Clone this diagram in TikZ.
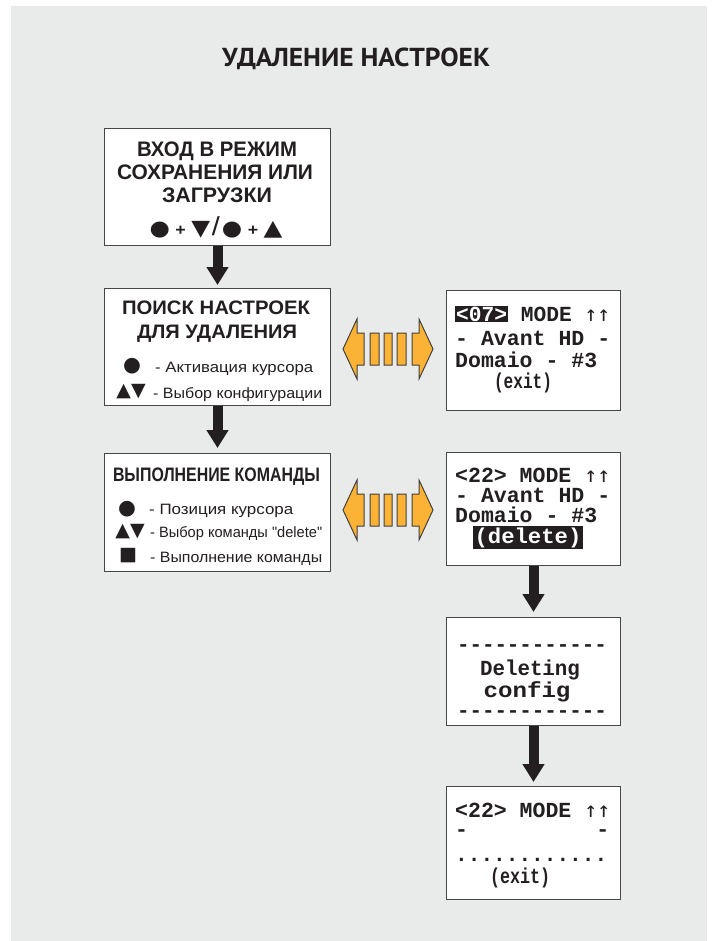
\documentclass[tikz,border=0pt]{standalone}
\usepackage{fontspec}
\usepackage{graphicx}
\setmainfont{Liberation Sans}
\newfontfamily\titlef{PT Sans}
\newfontfamily\lcdf{Liberation Mono}
\newfontfamily\symf{DejaVu Sans}
\newfontfamily\arrf{DejaVu Sans Mono}
\usetikzlibrary{arrows.meta}
\definecolor{panel}{RGB}{233,235,234}
\definecolor{ink}{RGB}{35,31,32}
\definecolor{orng}{RGB}{252,178,52}
\newcommand\fitw[2]{\sbox0{#2}\pgfmathsetmacro\fitfac{#1/\the\wd0}\scalebox{\fitfac}[1]{\usebox0}}
\newcommand\hlbox[2]{{\fboxsep=#1\colorbox{ink}{\textcolor{white}{#2}}}}
\begin{document}
\begin{tikzpicture}[x=1pt,y=-1pt,
  box/.style={draw=black!72, line width=1pt, fill=white, anchor=north west, inner sep=0pt},
  txt/.style={text=ink, inner sep=0pt},
  hdA/.style={txt, anchor=base, font=\fontsize{21}{21}\selectfont\bfseries},
  hdB/.style={txt, anchor=base, font=\fontsize{19.5}{19.5}\selectfont\bfseries},
  sm/.style={txt, anchor=base west, font=\fontsize{15}{15}\selectfont},
  sym/.style={txt, anchor=center, font=\symf\fontsize{19}{19}\selectfont},
  lcd/.style={txt, font=\lcdf\bfseries\fontsize{21.5}{21.5}\selectfont},
  dn/.style={draw=ink, line width=10pt, -{Triangle[length=18pt,width=21pt]}},
  dblarrow/.pic={
    \filldraw[fill=orng, draw=black!75, line width=1pt, line join=miter]
      (-45,0) -- (-31,-30) -- (-31,-16) -- (-24,-16) -- (-24,16) -- (-31,16) -- (-31,30) -- cycle
      (45,0) -- (31,-30) -- (31,-16) -- (24,-16) -- (24,16) -- (31,16) -- (31,30) -- cycle
      (-18,-16) rectangle (-9,16)
      (-4,-16) rectangle (4,16)
      (9,-16) rectangle (18,16);
  }
]
\useasboundingbox (0,0) rectangle (717,941);
\fill[white] (0,0) rectangle (717,941);
\fill[panel] (11,6) rectangle (707,941);

% title
\node[txt, anchor=base, font=\titlef\bfseries\fontsize{26}{26}\selectfont] (title) at (356,67) {\fitw{268}{УДАЛЕНИЕ НАСТРОЕК}};

% left boxes
\node[box, minimum width=226pt, minimum height=117pt] (b1) at (104,128) {};
\node[box, minimum width=226pt, minimum height=117pt] (b2) at (104,288) {};
\node[box, minimum width=226pt, minimum height=118pt] (b3) at (104,453) {};

\node[hdA] (b1a) at (217,157) {\fitw{160}{ВХОД В РЕЖИМ}};
\node[hdA] (b1b) at (215,180) {\fitw{196}{СОХРАНЕНИЯ ИЛИ}};
\node[hdA] (b1c) at (217,203) {\fitw{110}{ЗАГРУЗКИ}};
\node[txt, anchor=base] (b1d) at (216,236) {\fitw{133}{{\symf\fontsize{21}{21}\selectfont ●}\enspace{\fontsize{16}{16}\selectfont\bfseries +}\enspace{\symf\fontsize{22}{22}\selectfont ▼}\,{\fontsize{26}{26}\selectfont /}\,{\symf\fontsize{21}{21}\selectfont ●}\enspace{\fontsize{16}{16}\selectfont\bfseries +}\enspace{\symf\fontsize{22}{22}\selectfont ▲}}};

\node[hdB] (b2a) at (216,314) {\fitw{188}{ПОИСК НАСТРОЕК}};
\node[hdB] (b2b) at (217,338) {\fitw{160}{ДЛЯ УДАЛЕНИЯ}};
\node[sym, font=\symf\fontsize{20.5}{20.5}\selectfont] (b2s1) at (132,366) {●};
\node[sm] (b2t1) at (155,372) {\fitw{158}{- Активация курсора}};
\node[sym] (b2s2) at (131,392) {▲▼};
\node[sm] (b2t2) at (153,398) {\fitw{169}{- Выбор конфигурации}};

\node[hdB] (b3a) at (216.5,481) {\fitw{207}{ВЫПОЛНЕНИЕ КОМАНДЫ}};
\node[sym, font=\symf\fontsize{20.5}{20.5}\selectfont] (b3s1) at (127,509) {●};
\node[sm] (b3t1) at (149,514) {\fitw{144}{- Позиция курсора}};
\node[sym] (b3s2) at (130,532) {▲▼};
\node[sm] (b3t2) at (150,537) {\fitw{172}{- Выбор команды \textquotedbl delete\textquotedbl}};
\node[sym] (b3s3) at (128,556) {■};
\node[sm] (b3t3) at (150,562) {\fitw{172}{- Выполнение команды}};

% screens
\node[box, minimum width=174pt, minimum height=120pt] (s1) at (446,290) {};
\node[box, minimum width=174pt, minimum height=113pt] (s2) at (446,452) {};
\node[box, minimum width=174pt, minimum height=108pt] (s3) at (446,617) {};
\node[box, minimum width=174pt, minimum height=113pt] (s4) at (446,786) {};

\node[lcd, anchor=base west] (s1a) at (455,321) {\fitw{155}{\hlbox{1pt}{<07>} MODE {\arrf\mdseries ↑↑}}};
\node[lcd, anchor=base west] (s1b) at (455,345) {\fitw{155}{- Avant HD -}};
\node[lcd, anchor=base west] (s1c) at (455,367) {\fitw{142}{Domaio - \#3}};
\node[lcd, anchor=base] (s1d) at (523,388) {\fitw{58}{(exit)}};

\node[lcd, anchor=base west] (s2a) at (455,482) {\fitw{155}{<22> MODE {\arrf\mdseries ↑↑}}};
\node[lcd, anchor=base west] (s2b) at (455,502) {\fitw{155}{- Avant HD -}};
\node[lcd, anchor=base west] (s2c) at (455,522) {\fitw{142}{Domaio - \#3}};
\node[lcd, anchor=base] (s2d) at (528,543) {\fitw{110}{\hlbox{1.5pt}{(delete)}}};

\node[lcd, anchor=base] (s3a) at (532,651) {\fitw{150}{------------}};
\node[lcd, anchor=base] (s3b) at (530,675) {\fitw{100}{Deleting}};
\node[lcd, anchor=base] (s3c) at (527,697) {\fitw{87}{config}};
\node[lcd, anchor=base] (s3d) at (532,717) {\fitw{150}{------------}};

\node[lcd, anchor=base west] (s4a) at (455,817) {\fitw{155}{<22> MODE {\arrf\mdseries ↑↑}}};
\node[lcd, anchor=base west] (s4b) at (455,836) {\fitw{154}{-\hphantom{0000000000}-}};
\node[lcd, anchor=base west] (s4d) at (455,861) {\fitw{152}{............}};
\node[lcd, anchor=base] (s4e) at (520,883) {\fitw{60}{(exit)}};

% connectors
\draw[dn, shorten >=3pt] (b1.south) -- (b2.north);
\draw[dn, shorten >=5pt] (b2.south) -- (b3.north);
\draw[dn, shorten >=5pt] (s2.south) -- (s3.north);
\draw[dn, shorten >=4pt] (s3.south) -- (s4.north);

\pic (da1) at (388,349) {dblarrow};
\pic (da2) at (388,510) {dblarrow};
\end{tikzpicture}
\end{document}
